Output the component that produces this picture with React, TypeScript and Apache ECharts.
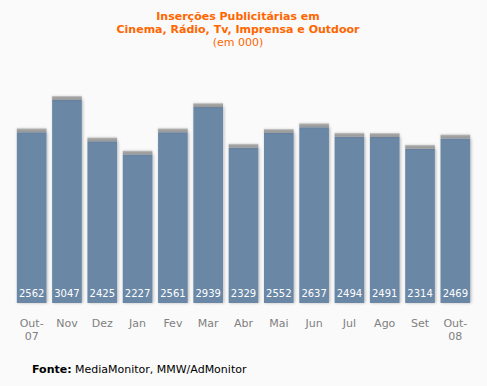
import React, { useEffect, useRef } from "react";
import * as echarts from "echarts";

const months = ["Out-\n07", "Nov", "Dez", "Jan", "Fev", "Mar", "Abr", "Mai", "Jun", "Jul", "Ago", "Set", "Out-\n08"];
const insercoes = [2562, 3047, 2425, 2227, 2561, 2939, 2329, 2552, 2637, 2494, 2491, 2314, 2469];
const capValue = 60;
const titleLines = ["Inserções Publicitárias em", "Cinema, Rádio, Tv, Imprensa e Outdoor"];
const subTitle = "(em 000)";
const sourceLabel = "Fonte:";
const sourceText = "MediaMonitor, MMW/AdMonitor";

const FONT = "DejaVu Sans";

export default function App() {
  const ref = useRef<HTMLDivElement>(null);
  useEffect(() => {
    document.body.style.margin = "0";
    const chart = echarts.init(ref.current!, undefined, { renderer: "svg" });
    chart.setOption({
      animation: false,
      backgroundColor: "#fafafa",
      grid: { left: 14, right: 14, top: 83, bottom: 83 },
      xAxis: {
        type: "category",
        data: months,
        axisLine: { show: false },
        axisTick: { show: false },
        axisLabel: {
          color: "#808080",
          fontFamily: FONT,
          fontSize: 11,
          margin: 14,
          lineHeight: 13,
          interval: 0,
        },
      },
      yAxis: {
        type: "value",
        min: 0,
        max: 3300,
        show: false,
        splitLine: { show: false },
      },
      series: [
        {
          type: "bar",
          stack: "a",
          data: insercoes,
          barCategoryGap: "16%",
          itemStyle: {
            color: "#6b87a6",
            shadowColor: "rgba(0,0,0,0.28)",
            shadowBlur: 3,
            shadowOffsetX: 1,
          },
          label: {
            show: true,
            position: "insideBottom",
            distance: 5,
            color: "#ffffff",
            fontFamily: FONT,
            fontSize: 10,
          },
        },
        {
          type: "bar",
          stack: "a",
          data: insercoes.map(() => capValue),
          itemStyle: {
            color: new echarts.graphic.LinearGradient(0, 0, 0, 1, [
              { offset: 0, color: "#d0d0d0" },
              { offset: 0.35, color: "#a5a5a5" },
              { offset: 1, color: "#969696" },
            ]),
            shadowColor: "rgba(0,0,0,0.15)",
            shadowBlur: 2,
          },
          label: { show: false },
          silent: true,
        },
      ],
      graphic: [
        {
          type: "text",
          x: 238,
          y: 10,
          style: {
            text: titleLines.join("\n"),
            fill: "#ff6600",
            font: `bold 11px "${FONT}"`,
            lineHeight: 13,
            align: "center",
          },
        },
        {
          type: "text",
          x: 238,
          y: 37,
          style: {
            text: subTitle,
            fill: "#ff6600",
            font: `11px "${FONT}"`,
            align: "center",
          },
        },
        {
          type: "text",
          x: 32,
          y: 363,
          style: {
            text: `{b|${sourceLabel}} {n|${sourceText}}`,
            rich: {
              b: { fontFamily: FONT, fontWeight: "bold", fontSize: 11, fill: "#000000" },
              n: { fontFamily: FONT, fontSize: 11, fill: "#000000" },
            },
          },
        },
      ],
    });
    return () => chart.dispose();
  }, []);
  return <div ref={ref} style={{ width: 487, height: 386, position: "absolute", left: 0, top: 0 }} />;
}
